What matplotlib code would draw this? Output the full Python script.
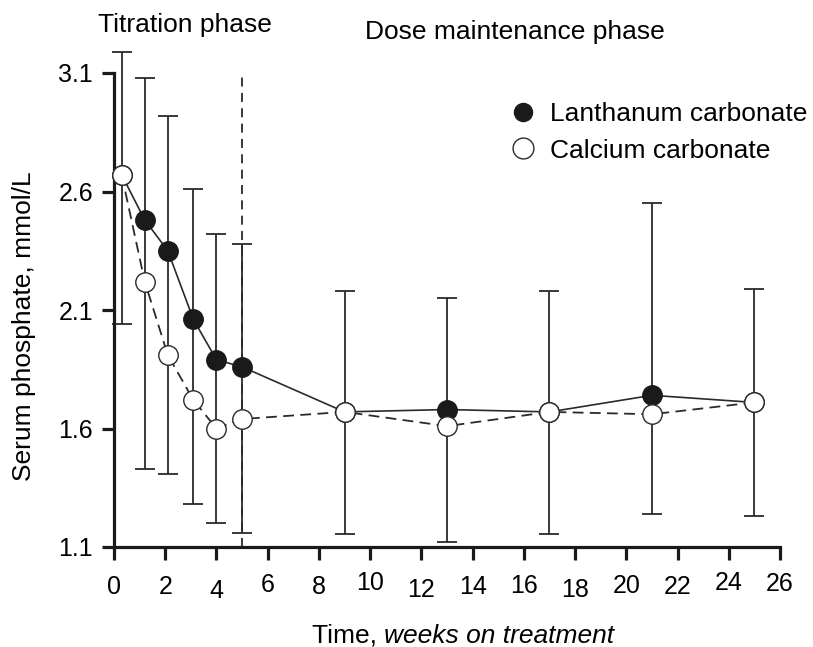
import matplotlib
matplotlib.use("Agg")
import matplotlib.pyplot as plt
import matplotlib.transforms as mtransforms
from matplotlib.lines import Line2D

plt.rcParams['font.family'] = ['Liberation Sans', 'DejaVu Sans']

weeks = [0.3, 1.2, 2.1, 3.1, 4, 5, 9, 13, 17, 21, 25]
lanthanum = [2.67, 2.48, 2.35, 2.06, 1.89, 1.86, 1.67, 1.68, 1.67, 1.74, 1.71]
calcium = [2.67, 2.22, 1.91, 1.72, 1.60, 1.64, 1.67, 1.61, 1.67, 1.66, 1.71]
err_upper = [3.19, 3.08, 2.92, 2.61, 2.42, 2.38, 2.18, 2.15, 2.18, 2.55, 2.19]
err_lower = [2.04, 1.43, 1.41, 1.28, 1.20, 1.16, 1.155, 1.12, 1.155, 1.24, 1.23]
err_center = [2.67, 2.48, 2.35, 2.06, 1.89, 1.86, 1.67, 1.68, 1.67, 1.74, 1.71]
xticks = list(range(0, 27, 2))
yticks = [1.1, 1.6, 2.1, 2.6, 3.1]
phase_split = 5

W, H = 813, 647
fig = plt.figure(figsize=(W / 100, H / 100), dpi=100)
ax = fig.add_axes([114 / W, 1 - 547 / H, 666 / W, 474 / H])

yerr = [[c - l for c, l in zip(err_center, err_lower)],
        [u - c for c, u in zip(err_center, err_upper)]]
ax.errorbar(weeks, err_center, yerr=yerr, fmt='none', ecolor='#2a2a2a',
            elinewidth=1.3, capsize=7, capthick=1.3, clip_on=False, zorder=2)

ax.plot([phase_split, phase_split], [1.1, 3.1], color='#2a2a2a', lw=1.3,
        dashes=(5, 3.5), zorder=1, clip_on=False)

ax.plot(weeks, lanthanum, color='#2a2a2a', lw=1.2, zorder=3,
        marker='o', markersize=14, markerfacecolor='#1a1a1a',
        markeredgecolor='#1a1a1a', clip_on=False)
ax.plot(weeks, calcium, color='#2a2a2a', lw=1.3, dashes=(6, 3.5), zorder=4,
        marker='o', markersize=14, markerfacecolor='white',
        markeredgecolor='#2a2a2a', markeredgewidth=1.0, clip_on=False)

ax.set_xlim(0, 26)
ax.set_ylim(1.1, 3.1)
ax.set_xticks(xticks)
ax.set_yticks(yticks)
ax.set_yticklabels([f"{v:.1f}" for v in yticks], fontsize=18)
ax.set_xticklabels([str(v) for v in xticks], fontsize=18)
for s in ['top', 'right']:
    ax.spines[s].set_visible(False)
for s in ['left', 'bottom']:
    ax.spines[s].set_linewidth(2.3)
    ax.spines[s].set_color('#1a1a1a')
ax.tick_params(axis='both', direction='out', length=9, width=2.3, color='#1a1a1a')
ax.tick_params(axis='x', pad=11)
ax.tick_params(axis='y', pad=6)

# slight stagger of x tick labels as in the original
offsets = {4: -4, 6: 2, 10: 4, 12: -3, 16: 1, 18: -3, 20: 1, 24: 4, 26: 3}
for lab, v in zip(ax.get_xticklabels(), xticks):
    dy = offsets.get(v, 0)
    if dy:
        lab.set_transform(lab.get_transform() + mtransforms.ScaledTranslation(0, dy / 100, fig.dpi_scale_trans))

ax.set_ylabel('Serum phosphate, mmol/L', fontsize=19)
ax.yaxis.set_label_coords((36 - 114) / 666, (547 - 326) / 474)

renderer = fig.canvas.get_renderer()
t1 = fig.text(312 / W, 1 - 643 / H, 'Time, ', fontsize=19, ha='left', va='baseline')
bb = t1.get_window_extent(renderer)
fig.text(bb.x1 / W, 1 - 643 / H, 'weeks on treatment', fontsize=19, style='italic',
         ha='left', va='baseline')

fig.text(185 / W, 1 - 25 / H, 'Titration phase', fontsize=19, ha='center', va='center')
fig.text(515 / W, 1 - 32 / H, 'Dose maintenance phase', fontsize=19, ha='center', va='center')

handles = [Line2D([], [], ls='none', marker='o', markersize=13, markerfacecolor='#1a1a1a',
                  markeredgecolor='#1a1a1a'),
           Line2D([], [], ls='none', marker='o', markersize=15, markerfacecolor='white',
                  markeredgecolor='#2a2a2a', markeredgewidth=1.0)]
leg = ax.legend(handles, ['Lanthanum carbonate', 'Calcium carbonate'], loc='upper left',
                bbox_to_anchor=((510 - 114) / 666, (547 - 102) / 474), frameon=False, fontsize=19,
                handletextpad=0.5, labelspacing=0.48, borderaxespad=0, borderpad=0,
                handlelength=1.0)

fig.savefig('out.png', dpi=100)
